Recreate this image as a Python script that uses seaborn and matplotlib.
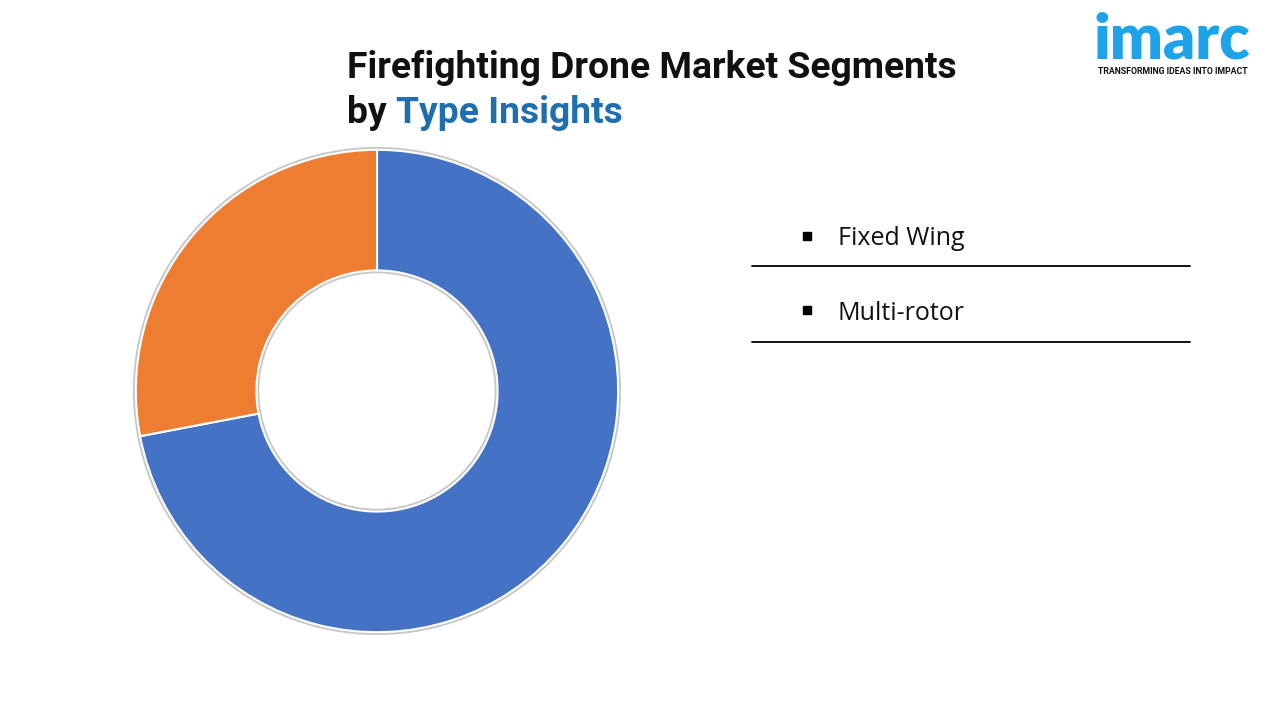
import matplotlib
matplotlib.use("Agg")
import matplotlib.pyplot as plt
from matplotlib.lines import Line2D
import seaborn as sns

# ---- data ----
categories = ["Fixed Wing", "Multi-rotor"]
shares = [72, 28]
colors = ["#4472C4", "#ED7D31"]
title_line1 = "Firefighting Drone Market Segments"
title_by = "by "
title_highlight = "Type Insights"

sns.set_theme(style="white")
plt.rcParams["font.family"] = ["Roboto", "DejaVu Sans"]

W, H = 1280, 720
fig = plt.figure(figsize=(W / 100, H / 100), dpi=100)
fig.patch.set_facecolor("white")

# donut axes: centre (377, 391) px, outer radius ~241 px
cx, cy, r = 377, 391, 246
ax = fig.add_axes([(cx - r) / W, 1 - (cy + r) / H, 2 * r / W, 2 * r / H])
ax.axis("off")

# soft shadow ring
ax.pie([1], radius=1.012, colors=["#9a9a9a"],
       wedgeprops=dict(width=0.524, linewidth=0, alpha=0.55))
ax.pie(shares, colors=colors, startangle=90, counterclock=False, radius=1.0,
       wedgeprops=dict(width=0.5, edgecolor="white", linewidth=1.5))
ax.set_aspect("equal")
ax.set_xlim(-1.02, 1.02)
ax.set_ylim(-1.02, 1.02)

# title
fs_title = 26.8
fig.text(347 / W, 1 - 68 / H, title_line1, fontsize=fs_title, fontweight="bold",
         color="#111111", va="center", ha="left", family=["Roboto", "DejaVu Sans"])
t_by = fig.text(347 / W, 1 - 113 / H, title_by, fontsize=fs_title, fontweight="bold",
                color="#111111", va="center", ha="left", family=["Roboto", "DejaVu Sans"])
fig.canvas.draw()
bb = t_by.get_window_extent()
fig.text(bb.x1 / W, 1 - 113 / H, title_highlight, fontsize=fs_title, fontweight="bold",
         color="#1F6FB0", va="center", ha="left", family=["Roboto", "DejaVu Sans"])

# legend (table-like)
leg_y = [236, 310]
line_y = [266, 342]
for lab, y, ly in zip(categories, leg_y, line_y):
    fig.add_artist(Line2D([807 / W], [1 - y / H], marker="s", markersize=6,
                          color="black", linestyle="none"))
    fig.text(838 / W, 1 - (y + 3) / H, lab, fontsize=18, color="#111111",
             va="center", ha="left", family=["Open Sans", "DejaVu Sans"])
    fig.add_artist(Line2D([752 / W, 1190 / W], [1 - ly / H, 1 - ly / H],
                          color="black", linewidth=1.3))

# logo
fig.text(1172 / W, 1 - 40 / H, "imarc", fontsize=45, fontweight="heavy",
         color="#1EA3E8", va="center", ha="center", family=["Lato", "DejaVu Sans"])
fig.text(1173 / W, 1 - 71 / H, "TRANSFORMING IDEAS INTO IMPACT", fontsize=6.3,
         fontweight="bold", color="#111111", va="center", ha="center",
         family=["Roboto", "DejaVu Sans"])

fig.savefig("out.png", dpi=100, facecolor="white")
